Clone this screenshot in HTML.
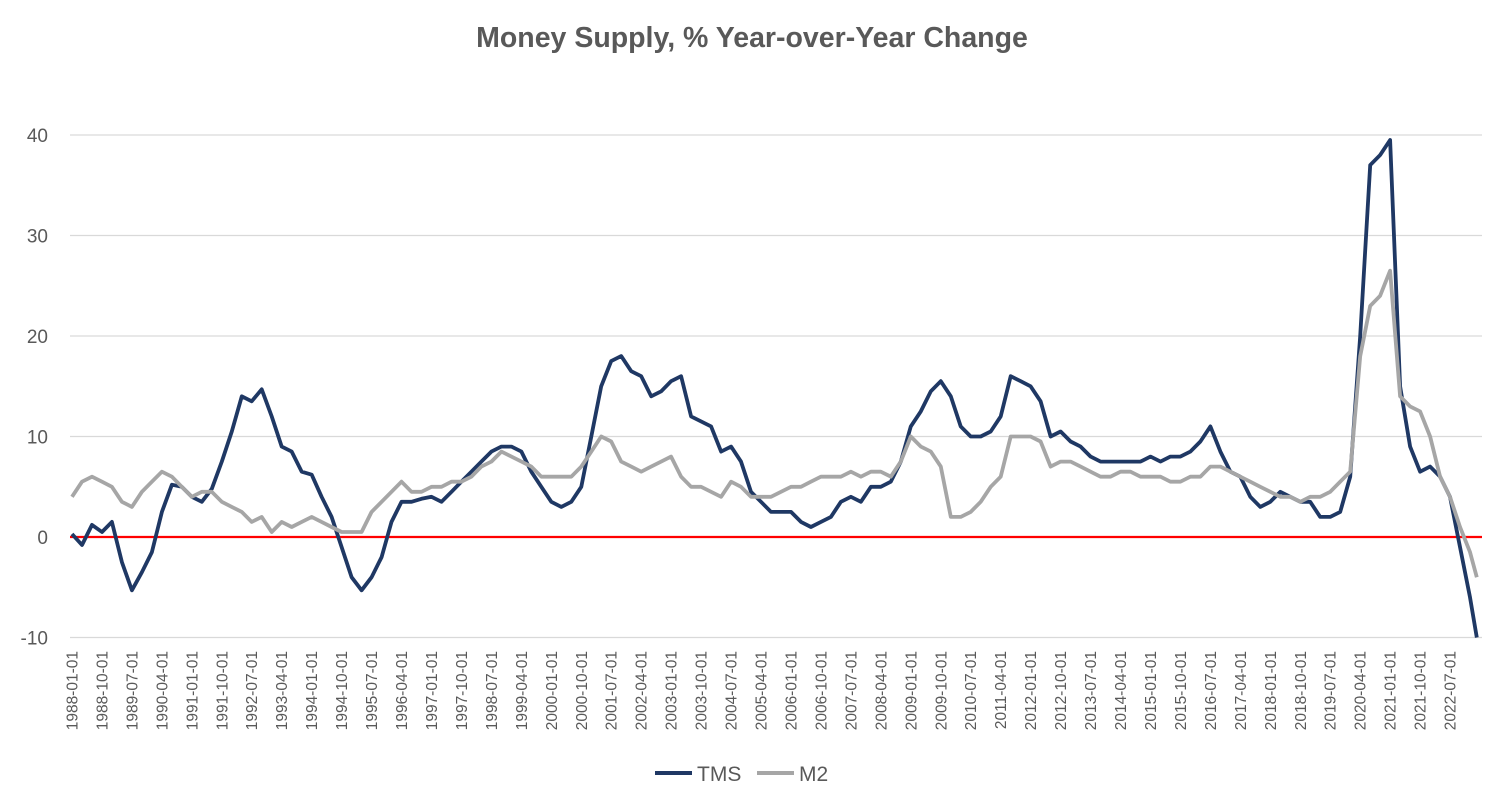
<!DOCTYPE html>
<html><head><meta charset="utf-8"><style>
body{margin:0;background:#fff;width:1504px;height:811px;overflow:hidden;font-family:"Liberation Sans",sans-serif}
svg{display:block}
</style></head><body>
<svg id="chart" width="1504" height="811">
<text x="752" y="47" text-anchor="middle" font-size="28.5" font-weight="bold" fill="#595959">Money Supply, % Year-over-Year Change</text>
<g id="grid"></g><g id="ylab"></g><g id="xlab"></g><g id="series"></g>
<g>
<line x1="655" y1="773" x2="692" y2="773" stroke="#1f3864" stroke-width="4"/>
<text x="697" y="781" font-size="21" fill="#595959">TMS</text>
<line x1="757" y1="773" x2="794" y2="773" stroke="#a6a6a6" stroke-width="4"/>
<text x="799" y="781" font-size="21" fill="#595959">M2</text>
</g>
</svg>
<script>
const yTicks=[40,30,20,10,-10];
const tmsDates=[1988,1988.25,1988.5,1988.75,1989,1989.25,1989.5,1989.75,1990,1990.25,1990.5,1990.75,1991,1991.25,1991.5,1991.75,1992,1992.25,1992.5,1992.75,1993,1993.25,1993.5,1993.75,1994,1994.25,1994.5,1994.75,1995,1995.25,1995.5,1995.75,1996,1996.25,1996.5,1996.75,1997,1997.25,1997.5,1997.75,1998,1998.25,1998.5,1998.75,1999,1999.25,1999.5,1999.75,2000,2000.25,2000.5,2000.75,2001,2001.25,2001.5,2001.75,2002,2002.25,2002.5,2002.75,2003,2003.25,2003.5,2003.75,2004,2004.25,2004.5,2004.75,2005,2005.25,2005.5,2005.75,2006,2006.25,2006.5,2006.75,2007,2007.25,2007.5,2007.75,2008,2008.25,2008.5,2008.75,2009,2009.25,2009.5,2009.75,2010,2010.25,2010.5,2010.75,2011,2011.25,2011.5,2011.75,2012,2012.25,2012.5,2012.75,2013,2013.25,2013.5,2013.75,2014,2014.25,2014.5,2014.75,2015,2015.25,2015.5,2015.75,2016,2016.25,2016.5,2016.75,2017,2017.25,2017.5,2017.75,2018,2018.25,2018.5,2018.75,2019,2019.25,2019.5,2019.75,2020,2020.25,2020.5,2020.75,2021,2021.25,2021.5,2021.75,2022,2022.25,2022.5,2022.75,2023,2023.17];
const tmsValues=[0.3,-0.8,1.2,0.5,1.5,-2.5,-5.3,-3.5,-1.5,2.5,5.2,5,4,3.5,4.8,7.5,10.5,14,13.5,14.7,12,9,8.5,6.5,6.2,4,2,-1,-4,-5.3,-4,-2,1.5,3.5,3.5,3.8,4,3.5,4.5,5.5,6.5,7.5,8.5,9,9,8.5,6.5,5,3.5,3,3.5,5,10,15,17.5,18,16.5,16,14,14.5,15.5,16,12,11.5,11,8.5,9,7.5,4.5,3.5,2.5,2.5,2.5,1.5,1,1.5,2,3.5,4,3.5,5,5,5.5,7.5,11,12.5,14.5,15.5,14,11,10,10,10.5,12,16,15.5,15,13.5,10,10.5,9.5,9,8,7.5,7.5,7.5,7.5,7.5,8,7.5,8,8,8.5,9.5,11,8.5,6.5,6,4,3,3.5,4.5,4,3.5,3.5,2,2,2.5,6,20,37,38,39.5,15,9,6.5,7,6,4,-1,-6,-10];
const m2Values=[4,5.5,6,5.5,5,3.5,3,4.5,5.5,6.5,6,5,4,4.5,4.5,3.5,3,2.5,1.5,2,0.5,1.5,1,1.5,2,1.5,1,0.5,0.5,0.5,2.5,3.5,4.5,5.5,4.5,4.5,5,5,5.5,5.5,6,7,7.5,8.5,8,7.5,7,6,6,6,6,7,8.5,10,9.5,7.5,7,6.5,7,7.5,8,6,5,5,4.5,4,5.5,5,4,4,4,4.5,5,5,5.5,6,6,6,6.5,6,6.5,6.5,6,7.5,10,9,8.5,7,2,2,2.5,3.5,5,6,10,10,10,9.5,7,7.5,7.5,7,6.5,6,6,6.5,6.5,6,6,6,5.5,5.5,6,6,7,7,6.5,6,5.5,5,4.5,4,4,3.5,4,4,4.5,5.5,6.5,18,23,24,26.5,14,13,12.5,10,6,4,1,-1.5,-4];
const xLabels=[];for(let m=0;m<=414;m+=9){const y=1988+Math.floor(m/12),mo=m%12+1;xLabels.push(y+"-"+String(mo).padStart(2,"0")+"-01");}
const NS="http://www.w3.org/2000/svg";
const X=d=>72+(d-1988)*12*3.3286;
const Y=v=>537-v*10.05;
function mk(t,a,p){const e=document.createElementNS(NS,t);for(const k in a)e.setAttribute(k,a[k]);p.appendChild(e);return e;}
const grid=document.getElementById('grid'),ylab=document.getElementById('ylab'),xlab=document.getElementById('xlab'),ser=document.getElementById('series');
yTicks.forEach(v=>{
 const l=mk('line',{x1:70,x2:1482,y1:Y(v),y2:Y(v),stroke:'#d9d9d9','stroke-width':1.3},grid);
 
 
});
[40,30,20,10,0,-10].forEach(v=>{
 const t=mk('text',{x:48,y:Y(v)+7,'text-anchor':'end','font-size':19,fill:'#595959'},ylab);t.textContent=v;
 
 
});
xLabels.forEach(s=>{
 const d=+s.slice(0,4)+(+s.slice(5,7)-1)/12;const x=X(d)+5.5;
 const t=mk('text',{x:0,y:0,transform:`translate(${x},651) rotate(-90)`,'text-anchor':'end','font-size':15.5,fill:'#595959'},xlab);t.textContent=s;
 
 
});
const z=mk('line',{x1:70,x2:1482,y1:Y(0),y2:Y(0),stroke:'#ff0000','stroke-width':2.2},grid);


function path(vals,color,name){
 const d=vals.map((v,i)=>(i?'L':'M')+X(tmsDates[i]).toFixed(1)+','+Y(v).toFixed(1)).join('');
 const p=mk('path',{d,fill:'none',stroke:color,'stroke-width':3.8,'stroke-linejoin':'round'},ser);
 
 
}
path(tmsValues,'#1f3864','tms-line');
path(m2Values,'#a6a6a6','m2-line');
</script>
</body></html>
